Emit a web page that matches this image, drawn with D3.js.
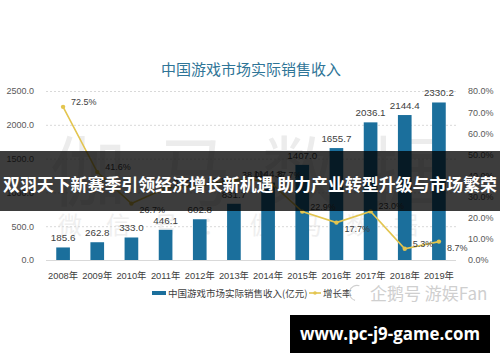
<!DOCTYPE html>
<html>
<head>
<meta charset="utf-8">
<script src="https://cdn.jsdelivr.net/npm/d3@7"></script>
<style>
  body { margin: 0; background: #fff; }
  svg { display: block; font-family: "Liberation Sans", "Noto Sans CJK SC", sans-serif; }
</style>
</head>
<body>
<svg id="chart" width="500" height="362"></svg>
<script>
const years = ["2008年", "2009年", "2010年", "2011年", "2012年", "2013年",
  "2014年", "2015年", "2016年", "2017年", "2018年", "2019年"];
const revenue = [185.6, 262.8, 333.0, 446.1, 602.8, 831.7, 1144.8, 1407.0, 1655.7, 2036.1, 2144.4, 2330.2];
const growth = [72.5, 41.6, 26.7, 34.0, 35.1, 38.0, 37.7, 22.9, 17.7, 23.0, 5.3, 8.7];
const leftTicks = [0, 500, 1000, 1500, 2000, 2500];
const rightTicks = [0, 10, 20, 30, 40, 50, 60, 70, 80];

const svg = d3.select("#chart");
const margin = { top: 91, right: 44, bottom: 102, left: 46 };
const width = +svg.attr("width");
const height = +svg.attr("height");
const innerWidth = width - margin.left - margin.right;
const innerHeight = height - margin.top - margin.bottom;

const x = d3.scaleBand().domain(years).range([0, innerWidth]).paddingInner(0.6).paddingOuter(0.3);
const yL = d3.scaleLinear().domain([0, 2500]).range([innerHeight, 0]);
const yR = d3.scaleLinear().domain([0, 80]).range([innerHeight, 0]);

// faint watermark behind the plot
svg.append("text")
  .attr("x", 262).attr("y", 200)
  .attr("text-anchor", "middle")
  .attr("font-family", "Noto Sans CJK SC")
  .attr("font-size", 76)
  .attr("letter-spacing", 30)
  .attr("fill", "#ececec")
  .text("伽马数据");
svg.append("text")
  .attr("x", 250).attr("y", 234)
  .attr("text-anchor", "middle")
  .attr("font-family", "Noto Sans CJK SC")
  .attr("font-size", 24)
  .attr("letter-spacing", 24)
  .attr("fill", "#efefef")
  .text("微信号：伽马数据");

svg.append("text")
  .attr("x", 251).attr("y", 75)
  .attr("text-anchor", "middle")
  .attr("font-family", "Noto Sans CJK SC")
  .attr("font-size", 15)
  .attr("fill", "#2f7597")
  .text("中国游戏市场实际销售收入");

const g = svg.append("g").attr("transform", `translate(${margin.left},${margin.top})`);

// grid
g.append("g")
  .call(d3.axisLeft(yL).tickValues(leftTicks).tickSize(-innerWidth).tickFormat(""))
  .call(a => a.select(".domain").remove())
  .call(a => a.selectAll(".tick line")
    .attr("stroke", "#d9d9d9")
    .attr("stroke-dasharray", d => d === 0 ? null : "2,2"));

// left axis labels
g.append("g")
  .attr("transform", "translate(-9,0)")
  .call(d3.axisLeft(yL).tickValues(leftTicks).tickSize(0).tickFormat(d3.format(".1f")))
  .call(a => a.select(".domain").remove())
  .call(a => a.selectAll("text").attr("fill", "#595959").attr("font-size", 9));

// right axis labels
g.append("g")
  .attr("transform", `translate(${innerWidth + 9},0)`)
  .call(d3.axisRight(yR).tickValues(rightTicks).tickSize(0).tickFormat(d => d.toFixed(1) + "%"))
  .call(a => a.select(".domain").remove())
  .call(a => a.selectAll("text").attr("fill", "#595959").attr("font-size", 9));

// x axis labels
g.append("g")
  .attr("transform", `translate(0,${innerHeight + 9})`)
  .call(d3.axisBottom(x).tickSize(0))
  .call(a => a.select(".domain").remove())
  .call(a => a.selectAll("text").attr("fill", "#404040").attr("font-size", 9.3)
    .attr("font-family", "Liberation Sans, Noto Sans CJK SC"));

// bars
g.selectAll("rect.bar")
  .data(revenue)
  .enter()
  .append("rect")
  .attr("class", "bar")
  .attr("x", (d, i) => x(years[i]))
  .attr("y", d => yL(d))
  .attr("width", x.bandwidth())
  .attr("height", d => innerHeight - yL(d))
  .attr("fill", "#1b6f9c");

g.selectAll("text.val")
  .data(revenue)
  .enter()
  .append("text")
  .attr("class", "val")
  .attr("x", (d, i) => x(years[i]) + x.bandwidth() / 2)
  .attr("y", d => yL(d) - 6)
  .attr("text-anchor", "middle")
  .attr("font-size", 9.8)
  .attr("fill", "#404040")
  .text(d => d.toFixed(1));

// growth line
const cx = i => x(years[i]) + x.bandwidth() / 2;
const line = d3.line().x((d, i) => cx(i)).y(d => yR(d));
g.append("path")
  .datum(growth)
  .attr("d", line)
  .attr("fill", "none")
  .attr("stroke", "#e3c54f")
  .attr("stroke-width", 1.6);

g.selectAll("circle.pt")
  .data(growth)
  .enter()
  .append("circle")
  .attr("cx", (d, i) => cx(i))
  .attr("cy", d => yR(d))
  .attr("r", 2.2)
  .attr("fill", "#e3c54f");

const below = ["2010年", "2016年", "2019年"];
g.selectAll("text.gr")
  .data(growth)
  .enter()
  .append("text")
  .attr("x", (d, i) => cx(i) + 8)
  .attr("y", (d, i) => yR(d) + (below.includes(years[i]) ? 9 : -2))
  .attr("font-size", 9)
  .attr("fill", "#404040")
  .text(d => d.toFixed(1) + "%");

// legend
const lg = svg.append("g").attr("transform", "translate(0,293)");
lg.append("rect").attr("x", 152).attr("y", -2).attr("width", 14).attr("height", 4).attr("fill", "#1b6f9c");
lg.append("text").attr("x", 168).attr("y", 3.5).attr("font-size", 9.5)
  .attr("font-family", "Noto Sans CJK SC").attr("fill", "#404040")
  .text("中国游戏市场实际销售收入(亿元)");
lg.append("line").attr("x1", 309).attr("x2", 321).attr("y1", 0).attr("y2", 0)
  .attr("stroke", "#e3c54f").attr("stroke-width", 1.6);
lg.append("circle").attr("cx", 315).attr("cy", 0).attr("r", 1.8).attr("fill", "#e3c54f");
lg.append("text").attr("x", 323).attr("y", 3.5).attr("font-size", 9.5)
  .attr("font-family", "Noto Sans CJK SC").attr("fill", "#404040")
  .text("增长率");

// platform watermark
lg.append("path")
  .attr("d", d3.arc()({ innerRadius: 7, outerRadius: 8.2, startAngle: 3.4, endAngle: 6.6 }))
  .attr("transform", "translate(357,0)")
  .attr("fill", "#d0d0d0");
lg.append("text").attr("x", 370).attr("y", 6.5).attr("font-size", 17)
  .attr("font-family", "Noto Sans CJK SC").attr("fill", "#cfcfcf")
  .text("企鹅号 游娱Fan");

// overlay banner
svg.append("rect").attr("x", 0).attr("y", 151).attr("width", width).attr("height", 60)
  .attr("fill", "rgba(0,0,0,0.76)");
svg.append("text")
  .attr("x", 3).attr("y", 191)
  .attr("textLength", 494).attr("lengthAdjust", "spacingAndGlyphs")
  .attr("font-family", "Noto Sans CJK SC")
  .attr("font-weight", "bold")
  .attr("font-size", 17)
  .attr("fill", "#fff")
  .text("双羽天下新赛季引领经济增长新机遇 助力产业转型升级与市场繁荣");

// footer
svg.append("rect").attr("x", 290).attr("y", 315).attr("width", 200).attr("height", 38).attr("fill", "#000");
svg.append("text")
  .attr("x", 300).attr("y", 340)
  .attr("textLength", 180).attr("lengthAdjust", "spacingAndGlyphs")
  .attr("font-family", "Open Sans, DejaVu Sans")
  .attr("font-weight", "bold")
  .attr("font-size", 17)
  .attr("fill", "#fff")
  .text("www.pc-j9-game.com");
</script>
</body>
</html>
